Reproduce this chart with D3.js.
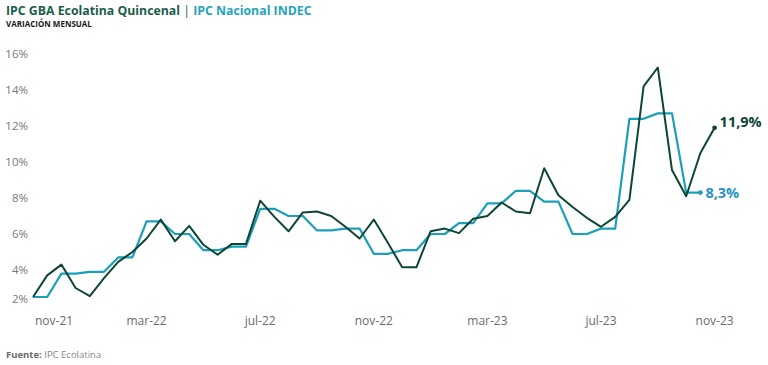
<!DOCTYPE html>
<html>
<head>
<meta charset="utf-8">
<script src="https://cdn.jsdelivr.net/npm/d3@7"></script>
<style>
  body { margin: 0; background: #fff; }
  svg { font-family: "Open Sans", sans-serif; }
</style>
</head>
<body>
<svg width="768" height="365"></svg>
<script>
// quincenas from nov-21 (1st half) to nov-23 (1st half)
const ECOLATINA = [
    2.5, 3.7, 4.3, 3.0, 2.55, 3.55, 4.45, 5.0, 5.75, 6.8,
    5.6, 6.45, 5.4, 4.85, 5.45, 5.45, 7.85, 6.95, 6.15, 7.2,
    7.25, 7.0, 6.4, 5.75, 6.8, 5.5, 4.15, 4.15, 6.15, 6.3,
    6.05, 6.85, 7.0, 7.75, 7.25, 7.15, 9.65, 8.15, 7.5, 6.9,
    6.4, 6.95, 7.9, 14.2, 15.25, 9.55, 8.1, 10.5, 11.9
];
// monthly INDEC, nov-21 .. oct-23 (each month drawn on both quincenas)
const INDEC = [
    2.5, 3.8, 3.9, 4.7, 6.7, 6.0, 5.1, 5.3, 7.4, 7.0, 6.2, 6.3,
    4.9, 5.1, 6.0, 6.6, 7.7, 8.4, 7.8, 6.0, 6.3, 12.4, 12.7, 8.3
];
const X_LABELS = ['nov-21', 'mar-22', 'jul-22', 'nov-22', 'mar-23', 'jul-23', 'nov-23'];
const Y_TICKS = [2, 4, 6, 8, 10, 12, 14, 16];

const DARK = '#0d4536';
const CYAN = '#1c9fb8';

const svg = d3.select('svg');

const x = d3.scaleLinear().domain([0, ECOLATINA.length - 1]).range([33, 714.6]);
const y = d3.scaleLinear().domain([0, 16]).range([342, 54]);

const indecHalves = INDEC.flatMap(v => [v, v]);

// title
const title = svg.append('text').attr('x', 6).attr('y', 15)
    .attr('font-size', 12.3).attr('font-weight', 700);
title.append('tspan').attr('fill', '#1b5d4b').text('IPC GBA Ecolatina Quincenal');
title.append('tspan').attr('fill', '#1b5d4b').attr('font-weight', 400).text(' | ');
title.append('tspan').attr('fill', '#25a3bd').text('IPC Nacional INDEC');

svg.append('text').attr('x', 6).attr('y', 27)
    .attr('font-size', 8).attr('font-weight', 700).attr('fill', '#1a1a1a')
    .text('VARIACIÓN MENSUAL');

// y axis labels
svg.append('g')
    .selectAll('text')
    .data(Y_TICKS)
    .enter()
    .append('text')
    .attr('x', 28)
    .attr('y', d => y(d) + (d === 2 ? -7 : 0))
    .attr('dy', '0.35em')
    .attr('text-anchor', 'end')
    .attr('font-size', 11.5)
    .attr('fill', '#777')
    .text(d => d + '%');

// x axis labels, one every 4 months
svg.append('g')
    .selectAll('text')
    .data(X_LABELS)
    .enter()
    .append('text')
    .attr('x', (d, i) => x(i * 8) + (i === 0 ? 2 : 0))
    .attr('y', 325)
    .attr('text-anchor', (d, i) => i === 0 ? 'start' : 'middle')
    .attr('font-size', 12)
    .attr('fill', '#6b6b6b')
    .text(d => d);

const line = d3.line().x((d, i) => x(i)).y(d => y(d));

svg.append('path')
    .datum(indecHalves)
    .attr('fill', 'none')
    .attr('stroke', CYAN)
    .attr('stroke-width', 2.2)
    .attr('stroke-linejoin', 'round')
    .attr('d', line);

svg.append('path')
    .datum(ECOLATINA)
    .attr('fill', 'none')
    .attr('stroke', DARK)
    .attr('stroke-width', 2)
    .attr('stroke-linejoin', 'round')
    .attr('d', line);

// end markers + labels
const lastE = ECOLATINA.length - 1;
const lastI = indecHalves.length - 1;

svg.append('circle').attr('cx', x(lastE)).attr('cy', y(ECOLATINA[lastE]))
    .attr('r', 2.4).attr('fill', DARK);
svg.append('circle').attr('cx', x(lastI)).attr('cy', y(indecHalves[lastI]))
    .attr('r', 2.4).attr('fill', CYAN);

svg.append('text')
    .attr('x', x(lastE) + 5).attr('y', y(ECOLATINA[lastE]) - 1)
    .attr('font-size', 14.5).attr('font-weight', 700).attr('fill', DARK)
    .text(ECOLATINA[lastE].toFixed(1).replace('.', ',') + '%');

svg.append('text')
    .attr('x', x(lastI) + 5).attr('y', y(indecHalves[lastI]))
    .attr('dy', '0.35em')
    .attr('font-size', 14.5).attr('font-weight', 700).attr('fill', '#2992c2')
    .text(indecHalves[lastI].toFixed(1).replace('.', ',') + '%');

// source
const src = svg.append('text').attr('x', 6).attr('y', 358).attr('font-size', 9.5).attr('fill', '#888');
src.append('tspan').attr('font-weight', 700).attr('fill', '#6a6a6a').text('Fuente:');
src.append('tspan').text(' IPC Ecolatina');
</script>
</body>
</html>
